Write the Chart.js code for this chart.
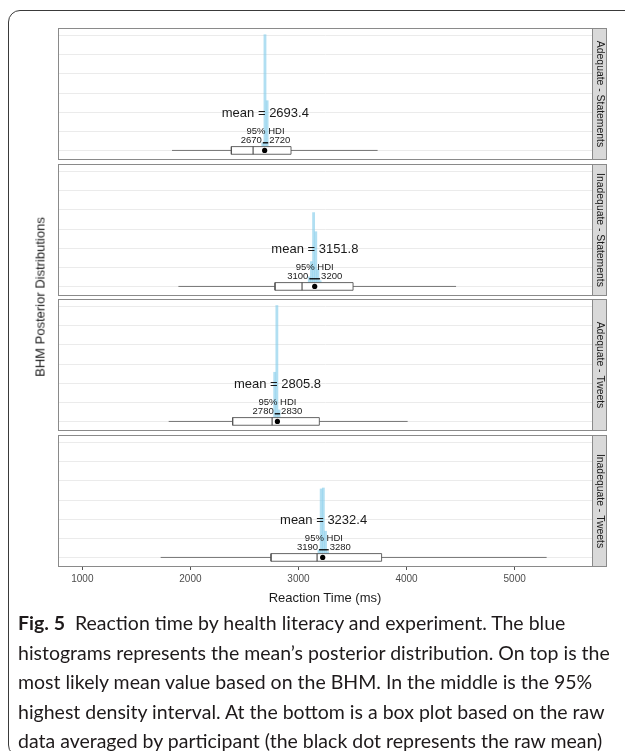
<!DOCTYPE html>
<html>
<head>
<meta charset="utf-8">
<script src="https://cdn.jsdelivr.net/npm/chart.js@4.4.1/dist/chart.umd.min.js"></script>
<style>
  html, body { margin: 0; padding: 0; background: #fff; }
  body { width: 625px; height: 751px; position: relative; overflow: hidden;
         font-family: "Liberation Sans", Arial, sans-serif; }
  .frame { position: absolute; left: 8px; top: 10px; width: 680px; height: 745px;
           border: 1.3px solid #3a3a3a; border-radius: 12px; }
  .panel { position: absolute; left: 0; width: 625px; }
  .ytitle { position: absolute; left: 40px; top: 297px; transform: translate(-50%, -50%) rotate(-90deg);
            font-size: 13px; color: #1a1a1a; white-space: nowrap; }
  .xtitle { position: absolute; left: 325px; top: 597px; transform: translate(-50%, -50%);
            font-size: 13px; color: #1a1a1a; white-space: nowrap; }
  .caption { position: absolute; left: 18px; top: 608px; font-family: Lato, sans-serif;
             font-size: 19.5px; line-height: 29.5px; color: #1e1a1b; white-space: nowrap; }
  .caption b { font-weight: 700; }
</style>
</head>
<body>
<div class="frame"></div>
<div class="panel" style="top:28px;height:132px"><canvas id="p0"></canvas></div>
<div class="panel" style="top:164px;height:132px"><canvas id="p1"></canvas></div>
<div class="panel" style="top:299px;height:132px"><canvas id="p2"></canvas></div>
<div class="panel" style="top:435px;height:162px"><canvas id="p3"></canvas></div>
<div class="ytitle">BHM Posterior Distributions</div>
<div class="xtitle">Reaction Time (ms)</div>
<div class="caption">
  <div><b>Fig. 5</b>&nbsp; Reaction time by health literacy and experiment. The blue</div>
  <div>histograms represents the mean’s posterior distribution. On top is the</div>
  <div>most likely mean value based on the BHM. In the middle is the 95%</div>
  <div>highest density interval. At the bottom is a box plot based on the raw</div>
  <div>data averaged by participant (the black dot represents the raw mean)</div>
</div>

<script>
// facets, top to bottom
const panelNames = ["Adequate - Statements", "Inadequate - Statements", "Adequate - Tweets", "Inadequate - Tweets"];

// posterior of the mean
const postMeans = [2693.4, 3151.8, 2805.8, 3232.4];
const hdiLow = [2670, 3100, 2780, 3190];
const hdiHigh = [2720, 3200, 2830, 3280];

// posterior histogram (bin centres, bar heights)
const histBins = [
  [2650, 2670, 2690, 2710, 2730],
  [3080, 3100, 3120, 3140, 3160, 3180, 3200, 3220],
  [2760, 2780, 2800, 2820, 2840],
  [3170, 3190, 3210, 3230, 3250, 3270, 3290]
];
const histHeights = [
  [0.1, 0.4, 6.05, 2.6, 0.2],
  [0.2, 0.5, 1.3, 3.86, 2.86, 0.9, 0.3, 0.1],
  [0.2, 2.57, 6.06, 0.6, 0.1],
  [0.1, 0.4, 3.58, 3.63, 1.37, 0.3, 0.1]
];

// box plot of raw data averaged by participant
const whiskerLow = [1830, 1889, 1799, 1725];
const q1 = [2379, 2783, 2391, 2746];
const medians = [2580, 3033, 2756, 3172];
const q3 = [2931, 3505, 3193, 3769];
const whiskerHigh = [3732, 4458, 4010, 5296];
const rawMeans = [2687, 3150, 2805, 3224];

const xTicks = [1000, 2000, 3000, 4000, 5000];
const xMin = 775, xMax = 5725;

const plotFont = '"Liberation Sans", Arial, sans-serif';

// panel border, strip and the text labels
const panelDecor = {
  id: "panelDecor",
  afterDatasetsDraw(chart, args, opts) {
    const { ctx, chartArea: a } = chart;
    const x = chart.scales.x, y = chart.scales.y;
    const i = opts.index;
    ctx.save();
    ctx.fillStyle = "#1a1a1a";
    ctx.textBaseline = "middle";

    ctx.font = "13px " + plotFont;
    ctx.textAlign = "center";
    ctx.fillText("mean = " + postMeans[i].toFixed(1), x.getPixelForValue(postMeans[i]), y.getPixelForValue(1.95));

    ctx.font = "9.5px " + plotFont;
    ctx.fillText("95% HDI", x.getPixelForValue((hdiLow[i] + hdiHigh[i]) / 2), y.getPixelForValue(0.98));
    ctx.textAlign = "right";
    ctx.fillText(String(hdiLow[i]), x.getPixelForValue(hdiLow[i]) - 1, y.getPixelForValue(0.55));
    ctx.textAlign = "left";
    ctx.fillText(String(hdiHigh[i]), x.getPixelForValue(hdiHigh[i]) + 1, y.getPixelForValue(0.55));

    // panel border
    ctx.strokeStyle = "#8a8a8a";
    ctx.lineWidth = 1;
    ctx.strokeRect(a.left + 0.5, a.top + 0.5, a.width - 1, a.height - 1);

    // strip on the right
    const sw = 14;
    ctx.fillStyle = "#d9d9d9";
    ctx.fillRect(a.right, a.top, sw, a.height);
    ctx.strokeRect(a.right - 0.5, a.top + 0.5, sw, a.height - 1);
    ctx.translate(a.right + sw / 2, (a.top + a.bottom) / 2);
    ctx.rotate(Math.PI / 2);
    ctx.fillStyle = "#1a1a1a";
    ctx.textAlign = "center";
    ctx.font = "10.4px " + plotFont;
    ctx.fillText(panelNames[i], 0, 0);
    ctx.restore();
  }
};

function buildPanel(i) {
  const bottom = i === panelNames.length - 1;
  const boxHalf = 0.2;
  const xScale = {
    type: "linear",
    min: xMin,
    max: xMax,
    offset: false,
    display: bottom,
    afterBuildTicks: (s) => { s.ticks = xTicks.map((v) => ({ value: v })); },
    grid: { offset: false, drawOnChartArea: false, drawTicks: true, tickLength: 3, color: "#555" },
    border: { display: false },
    ticks: {
      color: "#4d4d4d",
      padding: 3,
      maxRotation: 0,
      autoSkip: false,
      callback: (v) => String(v),
      font: { size: 10, family: plotFont }
    }
  };
  if (bottom) xScale.afterFit = (s) => { s.height = 30; };

  return new Chart(document.getElementById("p" + i), {
    type: "bar",
    data: {
      datasets: [
        {
          type: "scatter",
          data: [{ x: rawMeans[i], y: 0 }],
          pointRadius: 2.6,
          pointHoverRadius: 0,
          pointBackgroundColor: "#000",
          pointBorderWidth: 0,
          order: 0
        },
        {
          type: "line",
          data: [{ x: hdiLow[i], y: 0.4 }, { x: hdiHigh[i], y: 0.4 }],
          borderColor: "#000",
          borderWidth: 1.3,
          pointRadius: 0,
          order: 1
        },
        {
          type: "line",
          data: [{ x: medians[i], y: -boxHalf }, { x: medians[i], y: boxHalf }],
          borderColor: "#333",
          borderWidth: 1,
          pointRadius: 0,
          order: 2
        },
        {
          type: "line",
          data: [
            { x: q1[i], y: -boxHalf }, { x: q3[i], y: -boxHalf },
            { x: q3[i], y: boxHalf }, { x: q1[i], y: boxHalf },
            { x: q1[i], y: -boxHalf }
          ],
          borderColor: "#555",
          borderWidth: 0.9,
          backgroundColor: "#fff",
          fill: "shape",
          pointRadius: 0,
          tension: 0,
          order: 3
        },
        {
          type: "line",
          data: [{ x: whiskerLow[i], y: 0 }, { x: whiskerHigh[i], y: 0 }],
          borderColor: "#666",
          borderWidth: 0.9,
          pointRadius: 0,
          order: 4
        },
        {
          type: "bar",
          data: histBins[i].map((b, k) => ({ x: b, y: histHeights[i][k] })),
          backgroundColor: "rgba(135,206,235,0.65)",
          borderWidth: 0,
          barPercentage: 1,
          categoryPercentage: 1,
          order: 5
        }
      ]
    },
    options: {
      responsive: true,
      maintainAspectRatio: false,
      animation: false,
      layout: { autoPadding: false, padding: { left: 58, right: 32, top: 0, bottom: 0 } },
      plugins: {
        legend: { display: false },
        tooltip: { enabled: false },
        panelDecor: { index: i }
      },
      scales: {
        x: xScale,
        y: {
          type: "linear",
          min: -0.5,
          max: 6.4,
          afterFit: (s) => { s.width = 0; },
          ticks: { display: false, stepSize: 1, includeBounds: false },
          grid: { color: "#ebebeb", lineWidth: 1, drawTicks: false },
          border: { display: false }
        }
      }
    },
    plugins: [panelDecor]
  });
}

panelNames.forEach((_, i) => buildPanel(i));
</script>
</body>
</html>
